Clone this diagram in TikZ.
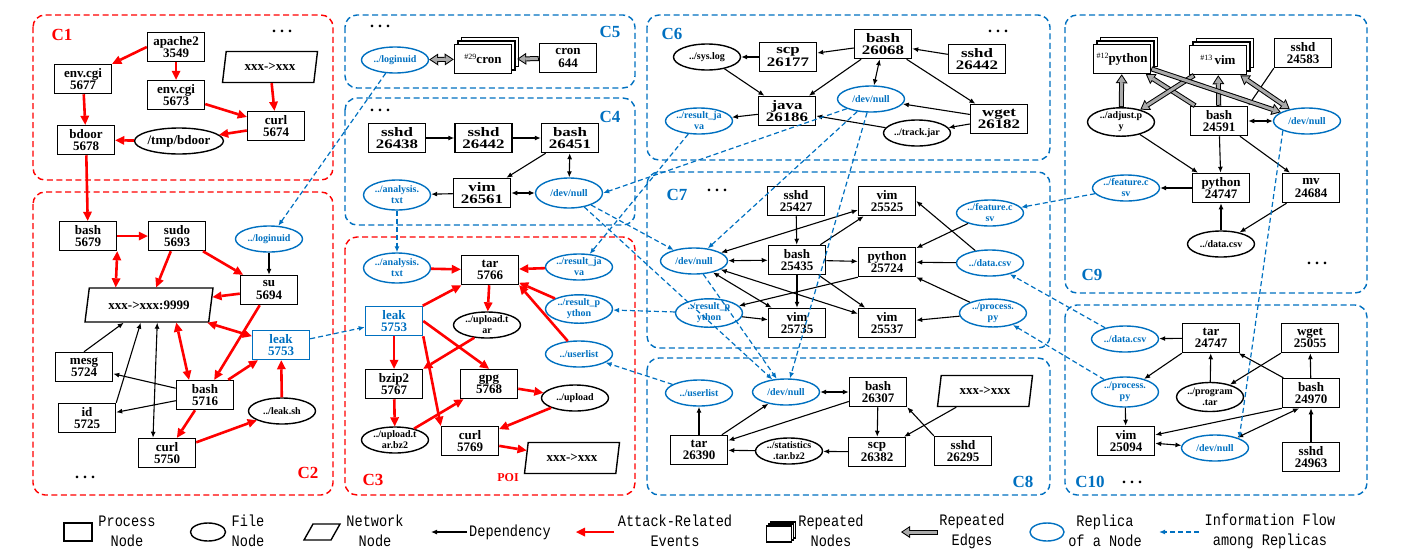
\documentclass[tikz,border=0pt]{standalone}
\usepackage{amsmath}
\usepackage{fontspec}
\setmainfont{Liberation Serif}
\newfontfamily\widefont[FakeStretch=1.3]{Liberation Serif}
\newfontfamily\legfont[FakeStretch=0.85]{Liberation Mono}
\usepackage{tikz}
\usetikzlibrary{arrows.meta,shapes.geometric,shadows,positioning}
\definecolor{repblue}{RGB}{0,112,192}
\definecolor{atkred}{RGB}{255,0,0}
\definecolor{repgray}{RGB}{170,170,170}
\tikzset{
  deptip/.tip={Latex[length=6pt,width=5pt]},
  atktip/.tip={Triangle[length=9pt,width=9pt,line width=0pt]},
  routtip/.tip={Triangle[length=9pt,width=12pt,line width=0pt]},
  rintip/.tip={Triangle[length=6.2pt,width=8.3pt,line width=0pt]},
}

\begin{document}
\begin{tikzpicture}[x=1pt, y=-1pt,
    proc/.style={draw, rectangle, line width=1.5pt, minimum width=57pt, minimum height=29pt, inner sep=0pt, align=center, font=\fontsize{13}{12.5}\selectfont\bfseries},
    wide/.style={font=\fontsize{13}{12.5}\selectfont\widefont\bfseries},
    procrep/.style={proc, draw=repblue, text=repblue},
    file/.style={draw, ellipse, line width=1.4pt, minimum width=67pt, minimum height=26pt, inner sep=0pt, align=center, font=\fontsize{10}{11}\selectfont\bfseries},
    replica/.style={file, draw=repblue, text=repblue},
    net/.style={draw, trapezium, trapezium left angle=64, trapezium right angle=116, trapezium stretches body=true, line width=1.4pt, minimum width=95pt, minimum height=31pt, inner sep=0pt, font=\fontsize{13}{13}\selectfont\bfseries},
    stack/.style={proc, fill=white, double copy shadow={shadow xshift=3.5pt, shadow yshift=3.5pt}},
    dep/.style={line width=1.1pt, -deptip},
    depboth/.style={line width=1.1pt, deptip-deptip},
    attack/.style={atkred, line width=2.6pt, -atktip},
    attackboth/.style={atkred, line width=2.6pt, atktip-atktip},
    flow/.style={repblue, line width=1.2pt, dash pattern=on 5pt off 3pt, -deptip},
    repone/.style={line width=5pt, -routtip, postaction={draw=repgray, line width=3pt, -rintip, shorten >=1.8pt, shorten <=1pt}},
    reptwo/.style={line width=5pt, routtip-routtip, postaction={draw=repgray, line width=3pt, rintip-rintip, shorten >=1.8pt, shorten <=1.8pt}},
    panelred/.style={atkred, line width=1.4pt, dash pattern=on 6pt off 3.5pt, rounded corners=12pt},
    panelblue/.style={panelred, repblue},
    labred/.style={text=atkred, font=\fontsize{17}{17}\selectfont\bfseries},
    labblue/.style={text=repblue, font=\fontsize{17}{17}\selectfont\bfseries},
    more/.style={font=\fontsize{16}{16}\selectfont\bfseries},
    legtext/.style={align=center, font=\fontsize{16}{20}\selectfont\legfont}]

    \useasboundingbox (0,0) rectangle (1408,552);

    \draw[panelred] (33,15) rectangle (333,180);
    \draw[panelred] (33,192) rectangle (333,495);
    \draw[panelblue] (345,15) rectangle (635,88);
    \draw[panelblue] (345,98) rectangle (635,225);
    \draw[panelred] (345,237) rectangle (635,495);
    \draw[panelblue] (647,15) rectangle (1050,160);
    \draw[panelblue] (647,172) rectangle (1050,348);
    \draw[panelblue] (647,358) rectangle (1050,495);
    \draw[panelblue] (1065,15) rectangle (1367,293);
    \draw[panelblue] (1065,305) rectangle (1367,495);

    % C1
    \node[labred] (labC1) at (62,35) {C1};
    \node[more] (moreC1) at (282,31) {.\hspace{4pt}.\hspace{4pt}.};
    \node[proc] (apache) at (176,47) {apache2\\3549};
    \node[proc] (envA) at (83,79) {env.cgi\\5677};
    \node[proc] (envB) at (176,95) {env.cgi\\5673};
    \node[net] (netC1) at (270,67) {xxx->xxx};
    \node[proc] (curlA) at (276,126) {curl\\5674};
    \node[proc] (bdoor) at (86,140) {bdoor\\5678};
    \node[file, minimum width=88pt, font=\fontsize{13}{13}\selectfont\bfseries] (tmpbd) at (179,141) {/tmp/bdoor};

    % C2
    \node[labred] (labC2) at (308,473) {C2};
    \node[more] (moreC2) at (85,477) {.\hspace{4pt}.\hspace{4pt}.};
    \node[proc] (bashA) at (88,236) {bash\\5679};
    \node[proc] (sudo) at (177,236) {sudo\\5693};
    \node[replica] (logA) at (269,239) {../loginuid};
    \node[proc] (su) at (269,290) {su\\5694};
    \node[net, minimum width=128pt, minimum height=34pt] (net9999) at (149,305) {xxx->xxx:9999};
    \node[procrep] (leakA) at (281,345) {leak\\5753};
    \node[proc] (mesg) at (84,367) {mesg\\5724};
    \node[proc] (bashB) at (205,395) {bash\\5716};
    \node[proc] (id) at (87,418) {id\\5725};
    \node[file] (leaksh) at (282,411) {../leak.sh};
    \node[proc] (curlB) at (167,453) {curl\\5750};

    % C5
    \node[labblue] (labC5) at (610,32) {C5};
    \node[more] (moreC5) at (380,26) {.\hspace{4pt}.\hspace{4pt}.};
    \node[replica] (logB) at (395,60) {../loginuid};
    \node[stack] (cronR) at (483,59) {\raisebox{4pt}{\fontsize{8}{8}\selectfont\mdseries\#29}cron};
    \node[proc] (cron) at (568,58) {cron\\644};

    % C4
    \node[labblue] (labC4) at (610,117) {C4};
    \node[more] (moreC4) at (380,110) {.\hspace{4pt}.\hspace{4pt}.};
    \node[proc, wide] (sshdA) at (397,138) {sshd\\26438};
    \node[proc, wide, right=28pt of sshdA] (sshdB) {sshd\\26442};
    \node[proc, wide, right=28pt of sshdB] (bashC) {bash\\26451};
    \node[replica, minimum height=30pt] (anaA) at (397,195) {../analysis.\\txt};
    \node[proc, wide] (vimA) at (482,193) {vim\\26561};
    \node[replica, minimum height=30pt] (nullA) at (569,193) {/dev/null};

    % C3
    \node[labred] (labC3) at (373,480) {C3};
    \node[text=atkred, font=\fontsize{12}{12}\selectfont\bfseries] (poi) at (508,478) {POI};
    \node[replica, minimum height=30pt] (anaB) at (397,268) {../analysis.\\txt};
    \node[proc] (tarA) at (490,270) {tar\\5766};
    \node[replica] (resjA) at (579,267) {../result\_ja\\va};
    \node[procrep] (leakB) at (394,321) {leak\\5753};
    \node[file] (uptar) at (487,325) {../upload.t\\ar};
    \node[replica] (respA) at (579,309) {../result\_p\\ython};
    \node[replica] (userA) at (579,354) {../userlist};
    \node[proc] (bzip) at (394,384) {bzip2\\5767};
    \node[proc] (gpg) at (489,384) {gpg\\5768};
    \node[file] (upload) at (575,398) {../upload};
    \node[file] (upbz) at (395,440) {../upload.t\\ar.bz2};
    \node[proc] (curlC) at (470,441) {curl\\5769};
    \node[net] (netC3) at (572,458) {xxx->xxx};

    % C6
    \node[labblue] (labC6) at (672,34) {C6};
    \node[more] (moreC6) at (998,31) {.\hspace{4pt}.\hspace{4pt}.};
    \node[proc, wide] (bashD) at (883,44) {bash\\26068};
    \node[proc, wide] (scpA) at (788,57) {scp\\26177};
    \node[file] (syslog) at (707,57) {../sys.log};
    \node[proc, wide] (sshdC) at (977,59) {sshd\\26442};
    \node[proc, wide] (java) at (787,111) {java\\26186};
    \node[replica] (nullB) at (871,99) {/dev/null};
    \node[replica] (resjB) at (699,121) {../result\_ja\\va};
    \node[proc, wide] (wget) at (999,119) {wget\\26182};
    \node[file] (track) at (917,133) {../track.jar};

    % C7
    \node[labblue] (labC7) at (677,195) {C7};
    \node[more] (moreC7) at (717,190) {.\hspace{4pt}.\hspace{4pt}.};
    \node[proc] (sshdD) at (796,201) {sshd\\25427};
    \node[proc] (vimB) at (887,201) {vim\\25525};
    \node[replica] (featA) at (990,213) {../feature.c\\sv};
    \node[replica] (nullC) at (694,261) {/dev/null};
    \node[proc] (bashE) at (797,260) {bash\\25435};
    \node[proc] (pyA) at (887,262) {python\\25724};
    \node[replica] (dataA) at (990,263) {../data.csv};
    \node[replica] (respB) at (709,313) {../result\_p\\ython};
    \node[proc] (vimC) at (797,323) {vim\\25735};
    \node[proc] (vimD) at (887,323) {vim\\25537};
    \node[replica] (procA) at (993,313) {../process.\\py};

    % C8
    \node[labblue] (labC8) at (1023,482) {C8};
    \node[replica] (userB) at (699,393) {../userlist};
    \node[replica] (nullD) at (786,392) {/dev/null};
    \node[proc] (bashF) at (878,392) {bash\\26307};
    \node[net] (netC8) at (985,391) {xxx->xxx};
    \node[proc] (tarB) at (699,450) {tar\\26390};
    \node[file] (stat) at (789,451) {../statistics\\.tar.bz2};
    \node[proc] (scpB) at (877,452) {scp\\26382};
    \node[proc] (sshdE) at (963,451) {sshd\\26295};

    % C9
    \node[labblue] (labC9) at (1092,275) {C9};
    \node[more] (moreC9) at (1317,263) {.\hspace{4pt}.\hspace{4pt}.};
    \node[stack] (pyR) at (1122,59) {\raisebox{4pt}{\fontsize{8}{8}\selectfont\mdseries\#12}python};
    \node[stack] (vimR) at (1218,60) {\raisebox{4pt}{\fontsize{8}{8}\selectfont\mdseries\#13}\,vim};
    \node[proc] (sshdF) at (1303,53) {sshd\\24583};
    \node[file] (adjust) at (1121,122) {../adjust.p\\y};
    \node[proc] (bashG) at (1219,121) {bash\\24591};
    \node[replica] (nullE) at (1307,121) {/dev/null};
    \node[replica] (featB) at (1126,188) {../feature.c\\sv};
    \node[proc] (pyB) at (1221,188) {python\\24747};
    \node[proc] (mv) at (1311,188) {mv\\24684};
    \node[file] (dataB) at (1221,244) {../data.csv};

    % C10
    \node[labblue] (labC10) at (1090,482) {C10};
    \node[more] (moreC10) at (1132,482) {.\hspace{4pt}.\hspace{4pt}.};
    \node[replica] (dataC) at (1125,339) {../data.csv};
    \node[proc] (tarC) at (1211,338) {tar\\24747};
    \node[proc] (wgetB) at (1310,338) {wget\\25055};
    \node[replica, minimum height=30pt] (procB) at (1125,392) {../process.\\py};
    \node[file, minimum height=29pt] (prog) at (1210,397) {../program\\.tar};
    \node[proc] (bashH) at (1311,393) {bash\\24970};
    \node[proc] (vimE) at (1126,441) {vim\\25094};
    \node[replica] (nullF) at (1215,448) {/dev/null};
    \node[proc] (sshdG) at (1311,457) {sshd\\24963};

    % C1 edges
    \draw[attack] (apache.west) -- (envA.north east);
    \draw[attack] (apache) -- (envB);
    \draw[attack] (envB) -- (curlA);
    \draw[attack] (netC1) -- (curlA);
    \draw[attack] (curlA) -- (tmpbd);
    \draw[attack] (tmpbd) -- (bdoor);
    \draw[attack] (envA) -- (bdoor);
    \draw[attack] (bdoor) -- (bashA);

    % C2 edges
    \draw[attack] (bashA) -- (sudo);
    \draw[attackboth] (bashA.south east) -- (net9999.152);
    \draw[attack] (sudo) -- (net9999);
    \draw[attack] (sudo) -- (su);
    \draw[attack] (su) -- (net9999);
    \draw[attack] (su) -- (bashB);
    \draw[attackboth] (net9999) -- (leakA);
    \draw[attackboth] (net9999.-33) -- ([xshift=-16pt]bashB.north);
    \draw[attack] (bashB) -- (leakA);
    \draw[attack] (bashB) -- (curlB);
    \draw[attack] (curlB) -- (leaksh);
    \draw[attack] (leaksh) -- (leakA);
    \draw[dep] (logA) -- (su);
    \draw[dep] (mesg.north) -- (net9999.-145);
    \draw[dep] (id.north east) -- (net9999.-115);
    \draw[depboth] ([xshift=-14pt]curlB.north) -- (net9999.-65);
    \draw[dep] (bashB) -- (mesg);
    \draw[dep] (bashB) -- (id);

    % C5 and C4 edges
    \draw[reptwo] (logB) -- (cronR);
    \draw[repone] (cron) -- ([xshift=5pt]cronR.east);
    \draw[dep] (sshdA) -- (sshdB);
    \draw[dep] (sshdB) -- (bashC);
    \draw[dep] (bashC) -- (vimA);
    \draw[depboth] (bashC) -- (nullA);
    \draw[depboth] (vimA) -- (nullA);
    \draw[dep] (vimA) -- (anaA);

    % C3 edges
    \draw[attack] (anaB) -- (tarA);
    \draw[attack] (resjA) -- (tarA);
    \draw[attack] (respA) -- (tarA);
    \draw[attack] (userA) -- (tarA.south east);
    \draw[attack] (leakB) -- (tarA);
    \draw[attack] (tarA) -- (uptar);
    \draw[attack] (leakB) -- (bzip);
    \draw[attack] (uptar.-135) -- (bzip.north east);
    \draw[attack] (leakB.east) -- (gpg.north);
    \draw[attack] (leakB.south east) -- (curlC.north west);
    \draw[attack] (bzip) -- (upbz);
    \draw[attack] (upbz) -- (gpg);
    \draw[attack] (gpg) -- (upload);
    \draw[attack] (upload) -- (curlC);
    \draw[attack] (curlC) -- (netC3);

    % C6 edges
    \draw[dep] (bashD) -- (scpA);
    \draw[dep] (scpA) -- (syslog);
    \draw[dep] (syslog) -- (java);
    \draw[dep] (bashD) -- (java);
    \draw[depboth] (bashD) -- (nullB);
    \draw[dep] (sshdC) -- (bashD);
    \draw[dep] (bashD) -- (wget);
    \draw[dep] (wget) -- (nullB);
    \draw[dep] (wget) -- (track);
    \draw[dep] (track) -- (java);
    \draw[dep] (java) -- (resjB);

    % C7 edges
    \draw[dep] (sshdD) -- (bashE);
    \draw[depboth] (bashE) -- (nullC);
    \draw[depboth] (vimB) -- (nullC);
    \draw[dep] (bashE) -- (vimB);
    \draw[dep] (bashE) -- (pyA);
    \draw[dep] (bashE) -- (vimC);
    \draw[dep] (bashE) -- (vimD);
    \draw[depboth] (nullC) -- (vimD);
    \draw[depboth] (nullC) -- (vimC);
    \draw[dep] (respB) -- (vimC);
    \draw[dep] (pyA.south west) -- (respB);
    \draw[dep] (featA) -- (pyA);
    \draw[dep] (dataA) -- (pyA);
    \draw[dep] (dataA) -- (vimB.east);
    \draw[dep] (procA) -- (pyA.south east);
    \draw[dep] (procA) -- (vimD);

    % C8 edges
    \draw[dep] (tarB) -- (userB);
    \draw[dep] (tarB) -- (nullD);
    \draw[depboth] (nullD) -- (bashF);
    \draw[dep] (bashF) -- (tarB);
    \draw[dep] (bashF) -- (scpB);
    \draw[dep] (netC8) -- (scpB);
    \draw[dep] (sshdE.north west) -- (bashF.south east);
    \draw[dep] (scpB) -- (stat);
    \draw[dep] (stat) -- (tarB);

    % C9 edges
    \draw[dep] (sshdF.south west) -- (bashG.north east);
    \draw[depboth] (bashG) -- (nullE);
    \draw[dep] (adjust) -- (pyB);
    \draw[dep] (bashG) -- (pyB);
    \draw[dep] (bashG) -- (mv);
    \draw[dep] (pyB) -- (featB);
    \draw[dep] (dataB) -- (pyB);
    \draw[dep] (mv) -- (dataB);
    \draw[repone] (adjust) -- (pyR);
    \draw[repone] (bashG) -- (vimR);
    \draw[repone] (bashG) -- (pyR);
    \draw[repone] (vimR) -- (adjust);
    \draw[repone] (pyR) -- (nullE);
    \draw[reptwo] (vimR) -- (nullE);

    % C10 edges
    \draw[dep] (tarC) -- (dataC);
    \draw[dep] (tarC.south west) -- (procB);
    \draw[dep] (prog) -- (tarC);
    \draw[dep] (wgetB.south west) -- (prog);
    \draw[dep] (bashH) -- (tarC);
    \draw[dep] (bashH) -- (wgetB);
    \draw[dep] (procB) -- (vimE);
    \draw[dep] (bashH.south west) -- (vimE);
    \draw[depboth] (vimE) -- (nullF);
    \draw[depboth] (nullF) -- ([xshift=-12pt]bashH.south);
    \draw[dep] (sshdG) -- (bashH);

    % replicas
    \draw[flow] (logB) -- (logA);
    \draw[flow] (anaA) -- (anaB);
    \draw[flow] (leakA) -- (leakB);
    \draw[flow] (resjB) -- (resjA);
    \draw[flow] (nullA) -- (nullC);
    \draw[flow] (nullA) -- (nullD);
    \draw[flow] (nullB.south west) -- (nullA.east);
    \draw[flow] (nullB) -- (nullC);
    \draw[flow] (nullB) -- (nullD);
    \draw[flow] (nullC) -- (nullD);
    \draw[flow] (respB) -- (respA);
    \draw[flow] (userB) -- (userA);
    \draw[flow] (featB) -- (featA);
    \draw[flow] (dataC) -- (dataA);
    \draw[flow] (procB) -- (procA);
    \draw[flow] (nullE.south west) -- (nullF.north east);

    % legend
    \node[proc, minimum width=28pt, minimum height=18pt] (lgproc) at (78,532) {};
    \node[legtext] (lgproctx) at (127,531) {Process\\Node};
    \node[file, minimum width=35pt, minimum height=18pt] (lgfile) at (208,532) {};
    \node[legtext] (lgfiletx) at (248,531) {File\\Node};
    \draw[line width=1.4pt] (304,540) -- (313,524) -- (340,524) -- (331,540) -- cycle;
    \node[legtext] (lgnettx) at (375,531) {Network\\Node};
    \coordinate (lgdepA) at (467,532);
    \coordinate (lgdepB) at (431,532);
    \draw[dep] (lgdepA) -- (lgdepB);
    \node[legtext] (lgdeptx) at (510,532) {Dependency};
    \coordinate (lgatkA) at (614,532);
    \coordinate (lgatkB) at (576,532);
    \draw[attack] (lgatkA) -- (lgatkB);
    \node[legtext] (lgatktx) at (675,531) {Attack-Related\\Events};
    \node[proc, fill=white, minimum width=25pt, minimum height=16pt, double copy shadow={shadow xshift=2pt, shadow yshift=2pt}] (lgstack) at (779,534) {};
    \node[legtext] (lgstacktx) at (831,531) {Repeated\\Nodes};
    \coordinate (lgrepA) at (938,532);
    \coordinate (lgrepB) at (901,532);
    \draw[repone] (lgrepA) -- (lgrepB);
    \node[legtext] (lgreptx) at (972,531) {Repeated\\Edges};
    \node[replica, minimum width=34pt, minimum height=18pt] (lgrep) at (1047,532) {};
    \node[legtext] (lgreptx2) at (1105,531) {Replica\\of a Node};
    \coordinate (lgflowA) at (1199,532);
    \coordinate (lgflowB) at (1159,532);
    \draw[flow] (lgflowA) -- (lgflowB);
    \node[legtext] (lgflowtx) at (1270,531) {Information Flow\\among Replicas};
\end{tikzpicture}
\end{document}
